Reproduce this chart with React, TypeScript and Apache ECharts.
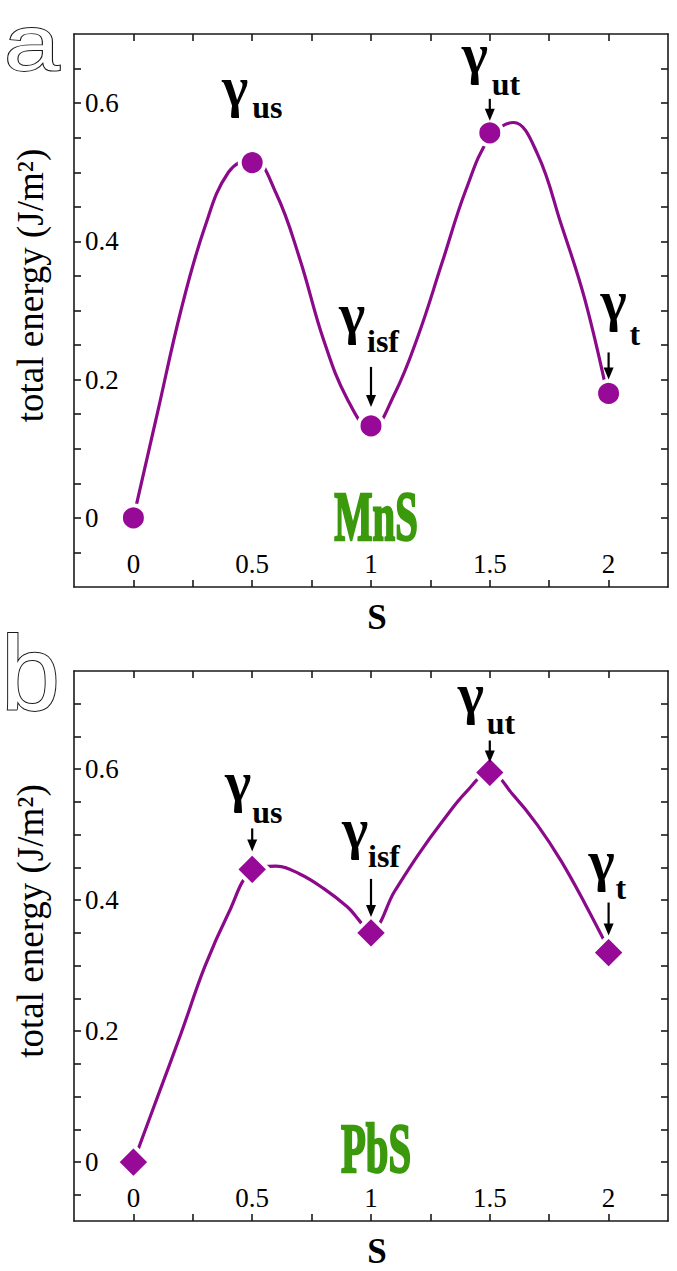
import React, { useEffect, useRef } from 'react';
import * as echarts from 'echarts';

// ---- axis ticks / labels ----
const sTicks = [0, 0.25, 0.5, 0.75, 1, 1.25, 1.5, 1.75, 2];
const sLabels = [0, 0.5, 1, 1.5, 2];
const eTicksA = [-0.05, 0, 0.05, 0.1, 0.15, 0.2, 0.25, 0.3, 0.35, 0.4, 0.45, 0.5, 0.55, 0.6, 0.65];
const eTicksB = [-0.05, 0, 0.05, 0.1, 0.15, 0.2, 0.25, 0.3, 0.35, 0.4, 0.45, 0.5, 0.55, 0.6, 0.65, 0.7];
const eLabels = [0, 0.2, 0.4, 0.6];

// ---- computed points ----
const pointS = [0, 0.5, 1, 1.5, 2];
const mnsEnergy = [0, 0.514, 0.133, 0.557, 0.18];
const pbsEnergy = [0, 0.447, 0.35, 0.595, 0.32];

// ---- fitted curves ----
const curveS = [0, 0.1, 0.2, 0.3, 0.4, 0.5, 0.6, 0.7, 0.8, 0.9, 1.0, 1.1, 1.2, 1.3, 1.4, 1.5, 1.6, 1.7, 1.8, 1.9, 2.0];
const mnsCurve = [0.0, 0.15, 0.3, 0.42, 0.5, 0.52, 0.47, 0.375, 0.258, 0.172, 0.128, 0.18, 0.265, 0.37, 0.475, 0.55, 0.572, 0.527, 0.425, 0.316, 0.17];
const pbsCurve = [0.0, 0.098, 0.196, 0.298, 0.38, 0.445, 0.452, 0.44, 0.418, 0.39, 0.355, 0.414, 0.47, 0.52, 0.565, 0.595, 0.56, 0.515, 0.46, 0.395, 0.325];

// ---- annotation names ----
const annoLabels = ['us', 'isf', 'ut', 't'];
const panelNames = ['MnS', 'PbS'];
const panelLetters = ['a', 'b'];

// ---- styles / layout (pixel offsets relative to each point) ----
const layoutA = [
  { gx: -17, gy: -57, sx: 0, sy: -45, arrow: null as null | number[] },
  { gx: -19, gy: -93, sx: -4, sy: -74, arrow: [-59, -19] },
  { gx: -15, gy: -60, sx: 2, sy: -38, arrow: [-34, -12] },
  { gx: 5, gy: -73, sx: 21, sy: -49, arrow: [-41, -14] },
];
const layoutB = [
  { gx: -14, gy: -68, sx: 0, sy: -47, arrow: [-41, -18] },
  { gx: -16, gy: -85, sx: -3, sy: -66, arrow: [-54, -16] },
  { gx: -19, gy: -59, sx: -3, sy: -39, arrow: [-32, -10] },
  { gx: -7, gy: -73, sx: 7, sy: -54, arrow: [-50, -17] },
];

const SERIF = 'Liberation Serif, Tinos, Times New Roman, DejaVu Serif, serif';
const SANS = 'Liberation Sans, Arimo, Arial, DejaVu Sans, sans-serif';
const LINE_COLOR = '#8a0a8a';
const MARK_COLOR = '#970a97';
const GREEN = '#3b9a0c';
const AX = { color: '#1a1a1a', width: 1.6 };

function xAxisDef(gridIndex: number, position: string, showLabel: boolean) {
  return {
    type: 'value',
    gridIndex,
    position,
    min: -0.25,
    max: 2.25,
    axisLine: { show: true, onZero: false, lineStyle: AX },
    axisTick: { show: true, inside: true, length: 7, customValues: sTicks, lineStyle: AX },
    axisLabel: showLabel
      ? { show: true, inside: true, margin: 10, customValues: sLabels, fontSize: 27, fontFamily: SERIF, color: '#000' }
      : { show: false },
    splitLine: { show: false },
    name: showLabel ? 'S' : '',
    nameLocation: 'middle',
    nameGap: 13,
    nameTextStyle: { fontSize: 35, fontWeight: 'bold', fontFamily: SERIF, color: '#000', padding: [0, 0, 0, 12] },
  };
}

function yAxisDef(gridIndex: number, position: string, showLabel: boolean, min: number, max: number, ticks: number[]) {
  return {
    type: 'value',
    gridIndex,
    position,
    min,
    max,
    axisLine: { show: true, onZero: false, lineStyle: AX },
    axisTick: { show: true, inside: true, length: 7, customValues: ticks, lineStyle: AX },
    axisLabel: showLabel
      ? { show: true, inside: true, margin: 11, customValues: eLabels, fontSize: 27, fontFamily: SERIF, color: '#000' }
      : { show: false },
    splitLine: { show: false },
    name: showLabel ? 'total energy (J/m²)' : '',
    nameLocation: 'middle',
    nameGap: 25,
    nameRotate: 90,
    nameTextStyle: { fontSize: 37, fontFamily: SERIF, color: '#000', padding: [0, 0, 0, 50] },
  };
}

function buildOption() {
  return {
    animation: false,
    backgroundColor: '#fff',
    textStyle: { fontFamily: SERIF },
    grid: [
      { left: 74, top: 34, width: 594, height: 553, containLabel: false, outerBoundsMode: 'none' },
      { left: 74, top: 671, width: 594, height: 550, containLabel: false, outerBoundsMode: 'none' },
    ],
    xAxis: [
      xAxisDef(0, 'bottom', true),
      xAxisDef(0, 'top', false),
      xAxisDef(1, 'bottom', true),
      xAxisDef(1, 'top', false),
    ],
    yAxis: [
      yAxisDef(0, 'left', true, -0.1, 0.7, eTicksA),
      yAxisDef(0, 'right', false, -0.1, 0.7, eTicksA),
      yAxisDef(1, 'left', true, -0.09, 0.75, eTicksB),
      yAxisDef(1, 'right', false, -0.09, 0.75, eTicksB),
    ],
    series: [
      {
        type: 'line', xAxisIndex: 0, yAxisIndex: 0,
        data: curveS.map((s, i) => [s, mnsCurve[i]]),
        smooth: 0.4, showSymbol: false, symbol: 'none',
        lineStyle: { color: LINE_COLOR, width: 3.2 }, z: 2, silent: true,
      },
      {
        type: 'scatter', xAxisIndex: 0, yAxisIndex: 0,
        data: pointS.map((s, i) => [s, mnsEnergy[i]]),
        symbol: 'circle', symbolSize: 25,
        itemStyle: { color: MARK_COLOR, borderColor: '#fff', borderWidth: 4, opacity: 1 }, z: 3,
      },
      {
        type: 'line', xAxisIndex: 2, yAxisIndex: 2,
        data: curveS.map((s, i) => [s, pbsCurve[i]]),
        smooth: 0.4, showSymbol: false, symbol: 'none',
        lineStyle: { color: LINE_COLOR, width: 3.2 }, z: 2, silent: true,
      },
      {
        type: 'scatter', xAxisIndex: 2, yAxisIndex: 2,
        data: pointS.map((s, i) => [s, pbsEnergy[i]]),
        symbol: 'diamond', symbolSize: 33,
        itemStyle: { color: MARK_COLOR, borderColor: '#fff', borderWidth: 4, opacity: 1 }, z: 3,
      },
    ],
  };
}

function textEl(x: number, y: number, text: string, opts: any) {
  const size = opts.size;
  const weight = opts.weight || 'normal';
  const family = opts.family || SERIF;
  const style: any = {
    text,
    font: `${weight} ${size}px ${family}`,
    fontSize: size,
    fontWeight: weight,
    fontFamily: family,
    fill: opts.fill || '#000',
    lineWidth: opts.lineWidth || 0,
    align: opts.align || 'left',
    textAlign: opts.align || 'left',
    verticalAlign: 'middle',
    textVerticalAlign: 'middle',
  };
  if (opts.stroke) style.stroke = opts.stroke;
  return {
    type: 'text',
    x,
    y,
    z: 20,
    scaleX: opts.scaleX || 1,
    style,
  };
}

function buildGraphics(chart: any) {
  const els: any[] = [];
  const panels = [
    { series: 1, energy: mnsEnergy, layout: layoutA },
    { series: 3, energy: pbsEnergy, layout: layoutB },
  ];
  const GS = 56;
  const SS = 32;
  panels.forEach((p) => {
    annoLabels.forEach((lab, k) => {
      const idx = k + 1;
      const pix = chart.convertToPixel({ seriesIndex: p.series }, [pointS[idx], p.energy[idx]]);
      const px = pix[0];
      const py = pix[1];
      const L = p.layout[k];
      els.push(textEl(px + L.gx, py + L.gy - 0.34 * GS, 'γ', { size: GS, weight: 'bold', align: 'center' }));
      els.push(textEl(px + L.sx, py + L.sy - 0.34 * SS, lab, { size: SS, weight: 'bold', align: 'left' }));
      if (L.arrow) {
        const top = py + L.arrow[0];
        const tip = py + L.arrow[1];
        els.push({
          type: 'line', z: 20,
          shape: { x1: px, y1: top, x2: px, y2: tip - 8 },
          style: { stroke: '#000', lineWidth: 2.2 },
        });
        els.push({
          type: 'polygon', z: 20,
          shape: { points: [[px - 5, tip - 12], [px + 5, tip - 12], [px, tip]] },
          style: { fill: '#000' },
        });
      }
    });
  });
  // panel material names
  els.push(textEl(376, 516, panelNames[0], { size: 70, weight: 'bold', fill: GREEN, stroke: GREEN, lineWidth: 2.5, align: 'center', scaleX: 0.58 }));
  els.push(textEl(376, 1148, panelNames[1], { size: 70, weight: 'bold', fill: GREEN, stroke: GREEN, lineWidth: 2.5, align: 'center', scaleX: 0.58 }));
  // panel letters (outlined)
  els.push(textEl(4, 70 - 0.35 * 77, panelLetters[0], { size: 77, family: SANS, fill: '#fff', stroke: '#1a1a1a', lineWidth: 1.8, scaleX: 1.3 }));
  els.push(textEl(1, 710 - 0.35 * 106, panelLetters[1], { size: 106, family: SANS, fill: '#fff', stroke: '#1a1a1a', lineWidth: 2 }));
  return els;
}

export default function App() {
  const ref = useRef<HTMLDivElement>(null);
  useEffect(() => {
    document.body.style.margin = '0';
    if (!ref.current) return;
    const chart = echarts.init(ref.current, null, { renderer: 'svg' });
    chart.setOption(buildOption() as any);
    chart.setOption({ graphic: buildGraphics(chart) } as any);
    return () => {
      chart.dispose();
    };
  }, []);
  return <div ref={ref} style={{ width: 677, height: 1271, background: '#fff' }} />;
}
